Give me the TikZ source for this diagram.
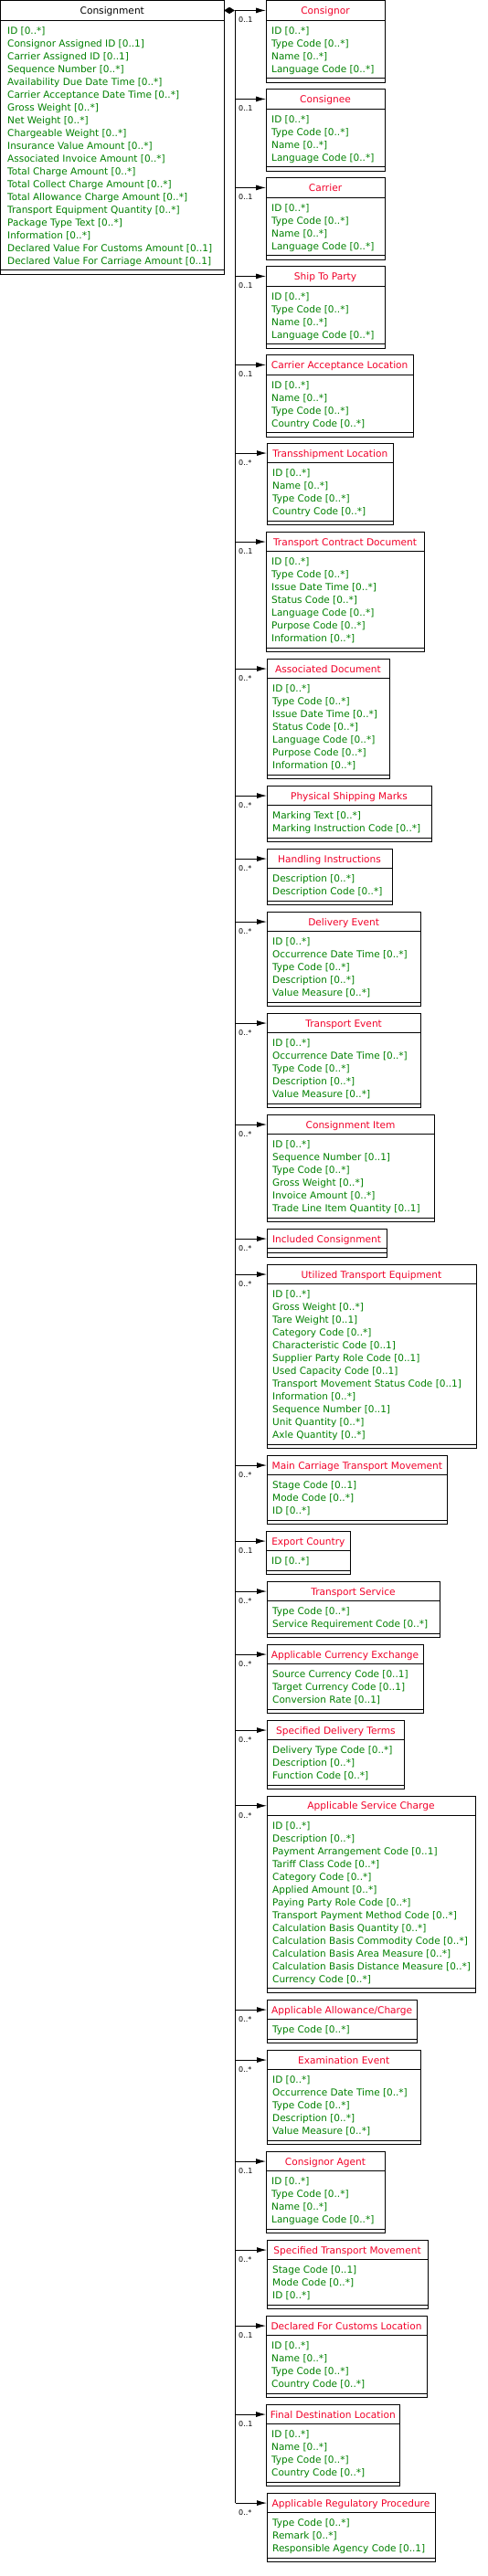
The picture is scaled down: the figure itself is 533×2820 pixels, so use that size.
\documentclass[tikz,border=0pt]{standalone}
\usepackage{fontspec}
\newfontfamily\umlfont{DejaVu Sans}
\usetikzlibrary{arrows.meta,fit,shapes.geometric}
\definecolor{attrgreen}{RGB}{0,128,0}
\definecolor{titlered}{RGB}{240,0,40}
\newcommand{\mz}{[0..*]}
\newcommand{\mo}{[0..1]}
\tikzset{
  clsbox/.style={draw, line width=0.9pt, inner sep=0pt},
  clsline/.style={line width=0.9pt},
  clstitle/.style={inner sep=0pt, anchor=base, text=titlered, font=\umlfont\fontsize{10.6}{13}\selectfont},
  clsattr/.style={inner sep=0pt, anchor=base west, text=attrgreen, font=\umlfont\fontsize{10.5}{13}\selectfont},
  multlabel/.style={inner sep=0pt, anchor=west, font=\umlfont\fontsize{8}{10}\selectfont},
  branch/.style={line width=0.9pt, -{Latex[length=11pt,width=6pt]}},
  trunkline/.style={line width=0.9pt},
  compdiamond/.style={diamond, fill=black, draw=black, inner sep=0pt, minimum width=11pt, minimum height=7pt},
}
% #1 id, #2 left, #3 top, #4 right, #5 number of attributes, #6 title, #7 multiplicity, #8 attributes
\newcommand{\umlcls}[8]{%
  \pgfmathsetmacro{\clsbot}{#3+21.5+4.5+(#5>0)*(14*#5+7.3)+(#5==0)*5}
  \coordinate (#1-nw) at (#2,#3);
  \coordinate (#1-se) at (#4,\clsbot);
  \node[clsbox, fit=(#1-nw)(#1-se)] (#1) {};
  \draw[clsline] (#2,{#3+21.5}) -- (#4,{#3+21.5});
  \draw[clsline] (#2,{\clsbot-4.5}) -- (#4,{\clsbot-4.5});
  \node[clstitle] (#1-t) at ({(#2+#4)/2},{#3+14.8}) {#6};
  \ifnum#5>0
    \foreach \attr [count=\k] in {#8} {\node[clsattr] (#1-a\k) at ({#2+6},{#3+21.5+15+(\k-1)*14}) {\attr};}
  \fi
  \coordinate (#1-in) at (#2,{#3+10.75});
  \coordinate (#1-br) at (257.7,{#3+10.75});
  \draw[branch] (#1-br) -- (#1-in);
  \node[multlabel] (#1-m) at (261,{#3+10.75+10.5}) {#7};
}
\begin{document}
\begin{tikzpicture}[x=1pt,y=-1pt]
\useasboundingbox (0,0) rectangle (533,2820);
% main class
\coordinate (main-nw) at (0.5,0.7);
\coordinate (main-se) at (245,300);
\node[clsbox, fit=(main-nw)(main-se)] (main) {};
\draw[clsline] (0.5,22.7) -- (245,22.7);
\draw[clsline] (0.5,295.5) -- (245,295.5);
\node[clstitle, text=black] (main-t) at (122.75,15.5) {Consignment};
\foreach \attr [count=\k] in {{ID \mz},{Consignor Assigned ID \mo},{Carrier Assigned ID \mo},{Sequence Number \mz},{Availability Due Date Time \mz},{Carrier Acceptance Date Time \mz},{Gross Weight \mz},{Net Weight \mz},{Chargeable Weight \mz},{Insurance Value Amount \mz},{Associated Invoice Amount \mz},{Total Charge Amount \mz},{Total Collect Charge Amount \mz},{Total Allowance Charge Amount \mz},{Transport Equipment Quantity \mz},{Package Type Text \mz},{Information \mz},{Declared Value For Customs Amount \mo},{Declared Value For Carriage Amount \mo}}
  {\node[clsattr] (main-a\k) at (8,{37.3+(\k-1)*14}) {\attr};}

\umlcls{c1}{291}{0.7}{421}{4}{Consignor}{0..1}{{ID \mz},{Type Code \mz},{Name \mz},{Language Code \mz}}
\umlcls{c2}{291}{97.7}{421}{4}{Consignee}{0..1}{{ID \mz},{Type Code \mz},{Name \mz},{Language Code \mz}}
\umlcls{c3}{291}{194.7}{421}{4}{Carrier}{0..1}{{ID \mz},{Type Code \mz},{Name \mz},{Language Code \mz}}
\umlcls{c4}{291}{291.7}{421}{4}{Ship To Party}{0..1}{{ID \mz},{Type Code \mz},{Name \mz},{Language Code \mz}}
\umlcls{c5}{291}{388.7}{452.3}{4}{Carrier Acceptance Location}{0..1}{{ID \mz},{Name \mz},{Type Code \mz},{Country Code \mz}}
\umlcls{c6}{292}{485.3}{430.7}{4}{Transshipment Location}{0..*}{{ID \mz},{Name \mz},{Type Code \mz},{Country Code \mz}}
\umlcls{c7}{291}{582.3}{464}{7}{Transport Contract Document}{0..1}{{ID \mz},{Type Code \mz},{Issue Date Time \mz},{Status Code \mz},{Language Code \mz},{Purpose Code \mz},{Information \mz}}
\umlcls{c8}{292}{721.3}{426}{7}{Associated Document}{0..*}{{ID \mz},{Type Code \mz},{Issue Date Time \mz},{Status Code \mz},{Language Code \mz},{Purpose Code \mz},{Information \mz}}
\umlcls{c9}{292}{860.3}{472}{2}{Physical Shipping Marks}{0..*}{{Marking Text \mz},{Marking Instruction Code \mz}}
\umlcls{c10}{292}{929.3}{429}{2}{Handling Instructions}{0..*}{{Description \mz},{Description Code \mz}}
\umlcls{c11}{292}{998.3}{460.3}{5}{Delivery Event}{0..*}{{ID \mz},{Occurrence Date Time \mz},{Type Code \mz},{Description \mz},{Value Measure \mz}}
\umlcls{c12}{292}{1109.3}{460.3}{5}{Transport Event}{0..*}{{ID \mz},{Occurrence Date Time \mz},{Type Code \mz},{Description \mz},{Value Measure \mz}}
\umlcls{c13}{292}{1220.3}{475}{6}{Consignment Item}{0..*}{{ID \mz},{Sequence Number \mo},{Type Code \mz},{Gross Weight \mz},{Invoice Amount \mz},{Trade Line Item Quantity \mo}}
\umlcls{c14}{292}{1345.3}{423}{0}{Included Consignment}{0..*}{}
\umlcls{c15}{292}{1384.3}{521}{12}{Utilized Transport Equipment}{0..*}{{ID \mz},{Gross Weight \mz},{Tare Weight \mo},{Category Code \mz},{Characteristic Code \mo},{Supplier Party Role Code \mo},{Used Capacity Code \mo},{Transport Movement Status Code \mo},{Information \mz},{Sequence Number \mo},{Unit Quantity \mz},{Axle Quantity \mz}}
\umlcls{c16}{292}{1593.3}{489.7}{3}{Main Carriage Transport Movement}{0..*}{{Stage Code \mo},{Mode Code \mz},{ID \mz}}
\umlcls{c17}{291}{1676.3}{383.7}{1}{Export Country}{0..1}{{ID \mz}}
\umlcls{c18}{292}{1731.3}{481}{2}{Transport Service}{0..*}{{Type Code \mz},{Service Requirement Code \mz}}
\umlcls{c19}{292}{1800.3}{463}{3}{Applicable Currency Exchange}{0..*}{{Source Currency Code \mo},{Target Currency Code \mo},{Conversion Rate \mo}}
\umlcls{c20}{292}{1883.3}{442.7}{3}{Specified Delivery Terms}{0..*}{{Delivery Type Code \mz},{Description \mz},{Function Code \mz}}
\umlcls{c21}{292}{1966}{520}{13}{Applicable Service Charge}{0..*}{{ID \mz},{Description \mz},{Payment Arrangement Code \mo},{Tariff Class Code \mz},{Category Code \mz},{Applied Amount \mz},{Paying Party Role Code \mz},{Transport Payment Method Code \mz},{Calculation Basis Quantity \mz},{Calculation Basis Commodity Code \mz},{Calculation Basis Area Measure \mz},{Calculation Basis Distance Measure \mz},{Currency Code \mz}}
\umlcls{c22}{292}{2189.3}{456.3}{1}{Applicable Allowance/Charge}{0..*}{{Type Code \mz}}
\umlcls{c23}{292}{2244.3}{460.3}{5}{Examination Event}{0..*}{{ID \mz},{Occurrence Date Time \mz},{Type Code \mz},{Description \mz},{Value Measure \mz}}
\umlcls{c24}{291}{2355.3}{421}{4}{Consignor Agent}{0..1}{{ID \mz},{Type Code \mz},{Name \mz},{Language Code \mz}}
\umlcls{c25}{292}{2452.3}{468}{3}{Specified Transport Movement}{0..*}{{Stage Code \mo},{Mode Code \mz},{ID \mz}}
\umlcls{c26}{291}{2535.3}{467}{4}{Declared For Customs Location}{0..1}{{ID \mz},{Name \mz},{Type Code \mz},{Country Code \mz}}
\umlcls{c27}{291}{2632.3}{437.7}{4}{Final Destination Location}{0..1}{{ID \mz},{Name \mz},{Type Code \mz},{Country Code \mz}}
\umlcls{c28}{292}{2729.3}{476}{3}{Applicable Regulatory Procedure}{0..*}{{Type Code \mz},{Remark \mz},{Responsible Agency Code \mo}}

% composition diamond and trunk
\node[compdiamond] (dia) at (251,11.45) {};
\draw[trunkline] (dia.east) -- (c1-br);
\draw[trunkline] (c1-br) -- (c28-br);
\end{tikzpicture}
\end{document}
